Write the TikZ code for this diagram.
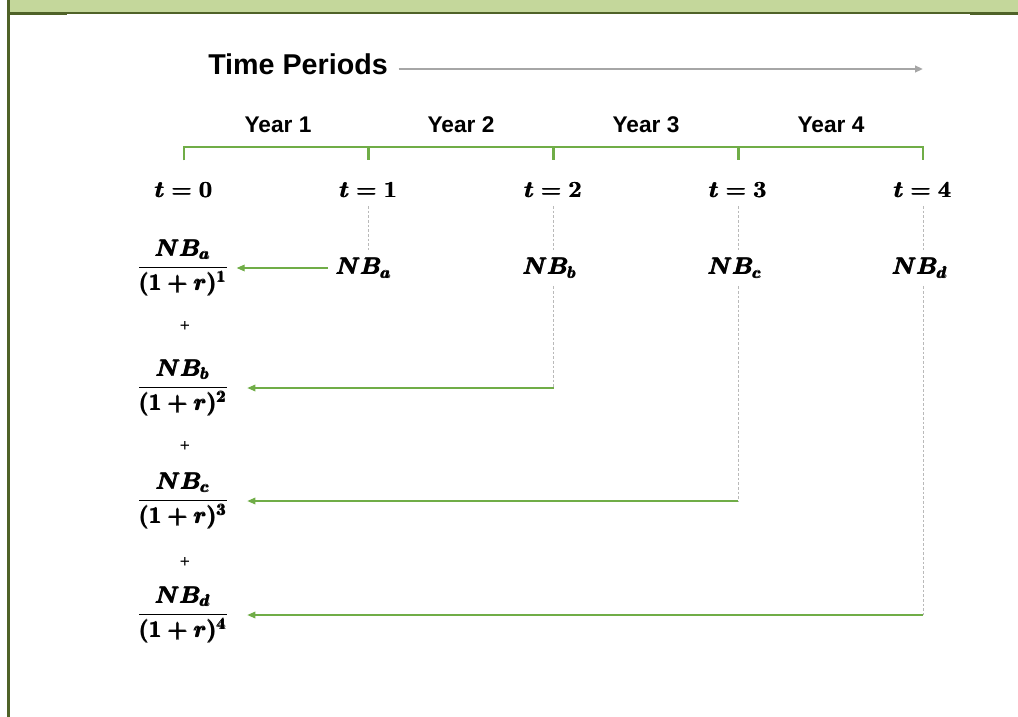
\documentclass[tikz,border=0pt]{standalone}
\usepackage{amsmath}
\usepackage[no-math]{fontspec}
\setmainfont{Liberation Sans}
\usepackage{bm}
\usetikzlibrary{arrows.meta}
\definecolor{barfill}{HTML}{C4D79B}
\definecolor{barline}{HTML}{4F6228}
\definecolor{yeargreen}{HTML}{70AD47}
\definecolor{periodgray}{HTML}{A6A6A6}
\newcommand{\heavy}[1]{\pmb{#1}}
\newcommand{\disc}[2]{\dfrac{\heavy{NB_{#1}}}{\heavy{(\mathbf{1}+r)^{\mathbf{#2}}}}}
\begin{document}
\begin{tikzpicture}[x=0.75pt,y=-0.75pt,>={Triangle[length=6pt,width=5pt]},
	yr/.style={font=\fontsize{17}{20}\selectfont\bfseries},
	mth/.style={font=\fontsize{18}{21}\selectfont\boldmath,inner sep=6pt},
	plus/.style={font=\fontsize{13}{15}\selectfont},
	lead/.style={draw=gray!55,dash pattern=on 2pt off 1.5pt,line width=0.6pt},
	back/.style={->,draw=yeargreen,line width=0.9pt}]
	\useasboundingbox (0,0) rectangle (1018,717);
	% frame
	\fill[barfill] (10,0) rectangle (1018,13);
	\draw[barline,line width=1.5pt] (10,13.5)--(1018,13.5);
	\draw[barline,line width=2.2pt] (10,14)--(67,14) (970,14)--(1018,14);
	\draw[barline,line width=2.4pt] (8.7,0)--(8.7,717);
	% time axis
	\node[font=\fontsize{21.5}{25}\selectfont\bfseries,inner sep=8pt] (tp) at (298,64) {Time Periods};
	\coordinate (tpend) at (923,69);
	\draw[->,periodgray,line width=1.6pt] (tp.east |- tpend) -- (tpend);
	\path
	(184,147) coordinate (k0)
	(368.75,147) coordinate (k1)
	(553.5,147) coordinate (k2)
	(738.25,147) coordinate (k3)
	(923,147) coordinate (k4)
	;
	\draw[yeargreen,line width=2.2pt] ([yshift=-10]k0) -- (k0) -- (k4) -- ([yshift=-10]k4)
		(k1) -- ([yshift=-10]k1) (k2) -- ([yshift=-10]k2) (k3) -- ([yshift=-10]k3);
	\node[yr] (y1) at (278,125) {Year 1};
	\node[yr] (y2) at (461,125) {Year 2};
	\node[yr] (y3) at (646,125) {Year 3};
	\node[yr] (y4) at (831,125) {Year 4};
	% t labels and net benefits
	\foreach \i in {0,...,4}
		\node[mth] (t\i) at (k\i |- 0,190) {$\heavy{t=\mathbf{\i}}$};
	\node[mth] (nb1) at (364,268) {$\heavy{NB_a}$};
	\node[mth] (nb2) at (550,268) {$\heavy{NB_b}$};
	\node[mth] (nb3) at (735,268) {$\heavy{NB_c}$};
	\node[mth] (nb4) at (920,268) {$\heavy{NB_d}$};
	% discounted values
	\node[mth] (f1) at (183,268) {$\disc{a}{1}$};
	\node[mth] (f2) at (183,388) {$\disc{b}{2}$};
	\node[mth] (f3) at (183,501) {$\disc{c}{3}$};
	\node[mth] (f4) at (183,615) {$\disc{d}{4}$};
	\node[plus] (p1) at (185,326) {+};
	\node[plus] (p2) at (185,446) {+};
	\node[plus] (p3) at (185,562) {+};
	\coordinate (c2) at (k2 |- f2);
	\coordinate (c3) at (k3 |- f3);
	\coordinate (c4) at (k4 |- f4);
	\draw[lead] (t1.south -| k1) -- (nb1.north -| k1);
	\draw[lead] (t2.south -| k2) -- (nb2.north -| k2) (nb2.south -| k2) -- (c2);
	\draw[lead] (t3.south -| k3) -- (nb3.north -| k3) (nb3.south -| k3) -- (c3);
	\draw[lead] (t4.south -| k4) -- (nb4.north -| k4) (nb4.south -| k4) -- (c4);
	\draw[back] (nb1.west) -- (nb1.west -| f1.east);
	\draw[back] (c2) -- ([xshift=8]c2 -| f2.east);
	\draw[back] (c3) -- ([xshift=8]c3 -| f3.east);
	\draw[back] (c4) -- ([xshift=8]c4 -| f4.east);
\end{tikzpicture}
\end{document}
